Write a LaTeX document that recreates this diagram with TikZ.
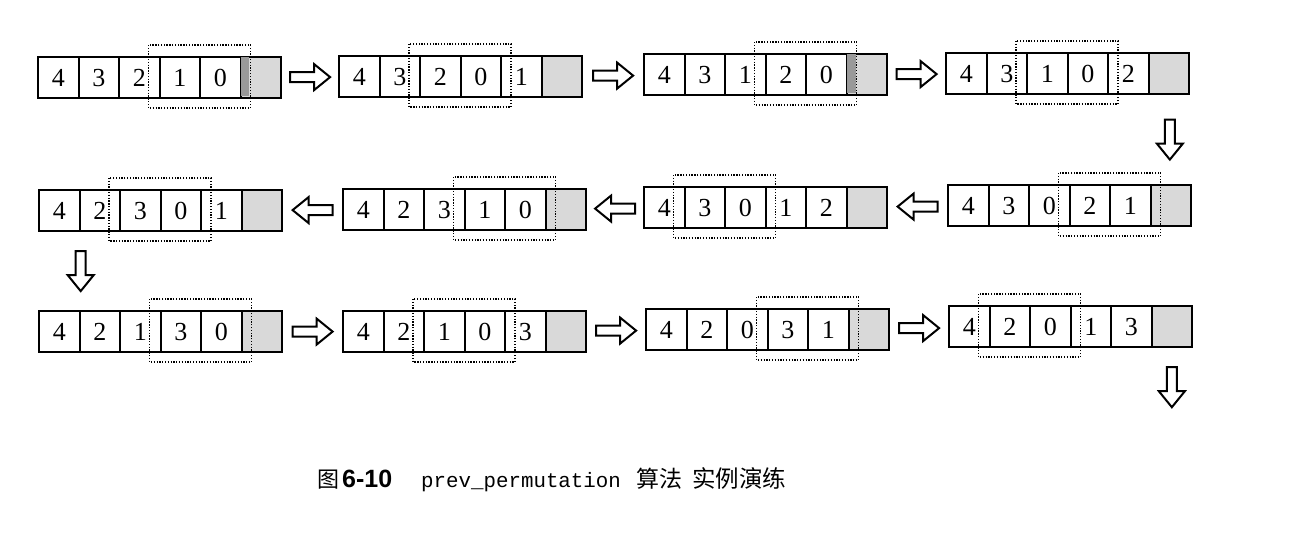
\documentclass[tikz,border=0pt]{standalone}
\usepackage{fontspec}
\setmainfont{Liberation Serif}
\newfontfamily\cjkfont{Noto Sans CJK SC}
\newfontfamily\capsans{Liberation Sans}
\newfontfamily\capmono{Liberation Mono}
\tikzset{
  cell/.style={draw, line width=2.2pt, minimum width=40.5pt, minimum height=41pt,
    inner sep=0pt, anchor=north west, font=\fontsize{26}{26}\selectfont},
  endcell/.style={cell, fill=black!15},
  window/.style={draw, line width=1.2pt, dash pattern=on 1.3pt off 1.5pt},
  blockarrow/.style={draw, line width=2pt, fill=white, line join=miter},
  rarr/.pic={\draw[blockarrow] (-20,-5) -- (4,-5) -- (4,-13) -- (20,0) -- (4,13) -- (4,5) -- (-20,5) -- cycle;},
  captext/.style={anchor=base west, inner sep=0pt},
}
% #1 name, #2 left x, #3 top y, #4 digits, #5 window start boundary
\newcommand\permrow[5]{%
  \foreach \v [count=\i] in {#4} {
    \node[cell] (#1-\i) at ({#2+(\i-1)*40.5},#3) {\v};
  }
  \node[endcell] (#1-6) at ({#2+5*40.5},#3) {};
  \draw[window] ({#2+#5*40.5-10},{#3-11}) rectangle ({#2+(#5+2)*40.5+11},{#3+52});
}
\begin{document}
\begin{tikzpicture}[x=1pt,y=-1pt]
\useasboundingbox (0,0) rectangle (1301,555);
% row 1
\permrow{a1}{37}{56}{4,3,2,1,0}{3}
\fill[black!40] (a1-6.north west) ++(1.2,1.2) rectangle ++(8,38.6);
\permrow{a2}{338}{55}{4,3,2,0,1}{2}
\permrow{a3}{643}{53}{4,3,1,2,0}{3}
\fill[black!40] (a3-6.north west) ++(1.2,1.2) rectangle ++(9,38.6);
\permrow{a4}{945}{52}{4,3,1,0,2}{2}
% row 2
\permrow{a5}{38}{189}{4,2,3,0,1}{2}
\permrow{a6}{342}{188}{4,2,3,1,0}{3}
\permrow{a7}{643}{186}{4,3,0,1,2}{1}
\permrow{a8}{947}{184}{4,3,0,2,1}{3}
% row 3
\permrow{a9}{38}{310}{4,2,1,3,0}{3}
\permrow{a10}{342}{310}{4,2,1,0,3}{2}
\permrow{a11}{645}{308}{4,2,0,3,1}{3}
\permrow{a12}{948}{305}{4,2,0,1,3}{1}
% arrows
\path (a1-6.east) -- (a2-1.west) coordinate[midway] (m12);
\path (a2-6.east) -- (a3-1.west) coordinate[midway] (m23);
\path (a3-6.east) -- (a4-1.west) coordinate[midway] (m34);
\path (a4-6.south) -- (a8-6.north) coordinate[midway] (m48);
\path (a8-1.west) -- (a7-6.east) coordinate[midway] (m87);
\path (a7-1.west) -- (a6-6.east) coordinate[midway] (m76);
\path (a6-1.west) -- (a5-6.east) coordinate[midway] (m65);
\path (a5-1.south east) -- (a9-1.north east) coordinate[midway] (m59);
\path (a9-6.east) -- (a10-1.west) coordinate[midway] (m910);
\path (a10-6.east) -- (a11-1.west) coordinate[midway] (m1011);
\path (a11-6.east) -- (a12-1.west) coordinate[midway] (m1112);
\coordinate (mend) at ([yshift=-39pt]a12-6.south);
\pic at (m12) {rarr};
\pic at (m23) {rarr};
\pic at (m34) {rarr};
\pic[rotate=-90] at (m48) {rarr};
\pic[rotate=180] at (m87) {rarr};
\pic[rotate=180] at (m76) {rarr};
\pic[rotate=180] at (m65) {rarr};
\pic[rotate=-90] at (m59) {rarr};
\pic at (m910) {rarr};
\pic at (m1011) {rarr};
\pic at (m1112) {rarr};
\pic[rotate=-90] at (mend) {rarr};
% caption
\node[captext, font=\cjkfont\fontsize{22}{22}\selectfont] (c1) at (317,487) {图};
\node[captext, font=\capsans\bfseries\fontsize{25}{25}\selectfont] (c2) at (342,487) {6-10};
\node[captext, font=\capmono\fontsize{20.8}{21}\selectfont] (c3) at (421,487) {prev\_permutation};
\node[captext, font=\cjkfont\fontsize{23}{23}\selectfont] (c4) at (636,487) {算法};
\node[captext, font=\cjkfont\fontsize{23.5}{23.5}\selectfont] (c5) at (692,487) {实例演练};
\end{tikzpicture}
\end{document}
